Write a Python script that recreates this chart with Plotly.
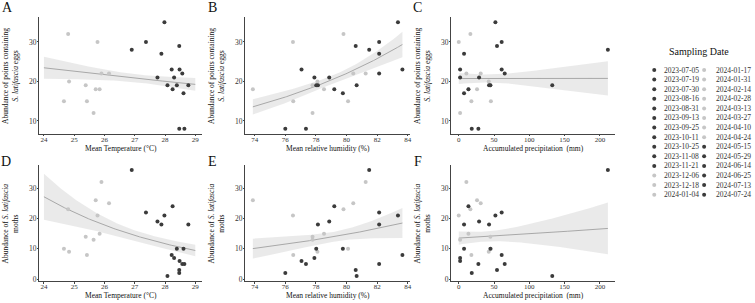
import math
import numpy as np
import plotly.graph_objects as go

W, H = 755, 303

# ---------------- data ----------------
dates = ["2023-07-05", "2023-07-19", "2023-07-30", "2023-08-16", "2023-08-31",
         "2023-09-13", "2023-09-25", "2023-10-11", "2023-10-25", "2023-11-08",
         "2023-11-21", "2023-12-06", "2023-12-18", "2024-01-04", "2024-01-17",
         "2024-01-31", "2024-02-14", "2024-02-28", "2024-03-13", "2024-03-27",
         "2024-04-10", "2024-04-24", "2024-05-15", "2024-05-29", "2024-06-14",
         "2024-06-25", "2024-07-13", "2024-07-24"]
shade = ["dark"] * 11 + ["light"] * 11 + ["dark"] * 6

temperature = [26.90, 27.37, 27.98, 28.22, 28.08, 28.47, 27.88, 28.61, 27.75, 28.25, 28.47,
               25.77, 25.64, 25.90, 24.80, 25.42, 25.71, 26.15, 24.83, 24.66, 25.38, 25.84,
               28.64, 28.57, 28.77, 28.39, 28.30, 28.48]
humidity = [81.48, 82.13, 83.36, 83.65, 80.66, 80.60, 82.13, 79.76, 78.87, 79.20, 76.00,
            76.50, 77.78, 81.25, 79.80, 76.52, 73.88, 80.44, 78.10, 80.10, 77.78, 78.53,
            77.35, 82.13, 78.13, 78.02, 77.90, 77.06]
precipitation = [211.3, 60.8, 51.9, 60.8, 132.5, 54.2, 7.5, 7.5, 28.8, 13.7, 18.4,
                 0.0, 1.9, 10.8, 16.5, 17.9, 25.9, 31.1, 42.5, 45.5, 44.8, 13.7,
                 27.8, 65.1, 42.9, 44.8, 1.9, 1.9]
eggs = [28, 30, 35, 23, 19, 29, 27, 17, 21, 18, 8,
        30, 12, 22, 32, 15, 18, 22, 20, 15, 19, 18,
        8, 22, 19, 19, 21, 23]
moths = [36, 22, 21, 8, 1, 3, 18, 10, 19, 24, 2,
         21, 13, 32, 23, 8, 26, 25, 9, 10, 14, 15,
         5, 5, 18, 10, 7, 6]

temp_ticks = [24, 25, 26, 27, 28, 29]
hum_ticks = [74, 76, 78, 80, 82, 84]
prec_ticks = [0, 50, 100, 150, 200]
egg_ticks = [10, 20, 30]
moth_ticks = [0, 10, 20, 30]

DARK = "#3b3b3b"
LIGHT = "#c6c6c6"
FONT = "Liberation Serif"
BAND_Z = 1.0   # band = fitted mean +/- 1 standard error (response scale)


# ---------------- negative binomial GLM (log link), all three covariates ----------------
def nb_fit(covs, y):
    y = np.asarray(y, float)
    C = np.column_stack([np.asarray(c, float) for c in covs])
    means = C.mean(axis=0)
    X = np.column_stack([np.ones(len(y)), C - means])
    lgy1 = sum(math.lgamma(v + 1) for v in y)

    def irls(beta, theta):
        for _ in range(200):
            eta = X @ beta
            mu = np.exp(eta)
            w = mu / (1.0 + mu / theta)
            z = eta + (y - mu) / mu
            nb = np.linalg.solve((X.T * w) @ X, (X.T * w) @ z)
            if np.max(np.abs(nb - beta)) < 1e-12:
                return nb
            beta = nb
        return beta

    def loglik(t, mu):
        s = 0.0
        for yi, mi in zip(y, mu):
            s += (math.lgamma(yi + t) - math.lgamma(t) + t * math.log(t / (t + mi))
                  + yi * math.log(mi / (t + mi)))
        return s - lgy1

    beta = np.zeros(X.shape[1])
    beta[0] = math.log(y.mean())
    theta = 5.0
    gr = (math.sqrt(5) - 1) / 2
    for _ in range(40):
        beta = irls(beta, theta)
        mu = np.exp(X @ beta)
        a, b = -3.0, 12.0
        c = b - gr * (b - a)
        d = a + gr * (b - a)
        for _ in range(80):
            if loglik(math.exp(c), mu) > loglik(math.exp(d), mu):
                b = d
            else:
                a = c
            c = b - gr * (b - a)
            d = a + gr * (b - a)
        theta = math.exp((a + b) / 2)
    beta = irls(beta, theta)
    mu = np.exp(X @ beta)
    w = mu / (1.0 + mu / theta)
    cov = np.linalg.inv((X.T * w) @ X)
    return beta, cov, means


def nb_predict(fit, k, xg):
    """Vary covariate k over xg, the others held at their means."""
    beta, cov, means = fit
    Xg = np.zeros((len(xg), len(beta)))
    Xg[:, 0] = 1.0
    Xg[:, 1 + k] = xg - means[k]
    eta = Xg @ beta
    se = np.sqrt(np.sum((Xg @ cov) * Xg, axis=1))
    mu = np.exp(eta)
    return mu, mu - BAND_Z * mu * se, mu + BAND_Z * mu * se


# ---------------- layout helpers ----------------
def px(x):
    return x / W


def py(y):
    return 1 - y / H


col_px = [(39.5, 202.5), (246.0, 411.0), (452.5, 617.0)]
row_px = [(17.0, 135.0), (165.7, 283.3)]

covariates = [temperature, humidity, precipitation]
xvars = [
    (temperature, [23.85, 29.22], temp_ticks, "Mean Temperature (°C)", "full"),
    (humidity, [73.39, 84.14], hum_ticks, "Mean relative humidity (%)", "data"),
    (precipitation, [-10.57, 221.9], prec_ticks, "Accumulated precipitation  (mm)", "data"),
]
yvars = [
    (eggs, [6.65, 36.35], egg_ticks,
     "Abundance of points containing<br><i>S. latifascia</i> eggs"),
    (moths, [-0.75, 37.75], moth_ticks,
     "Abundance of <i>S. latifascia</i><br>moths"),
]
letters = ["A", "B", "C", "D", "E", "F"]
letter_pos = [(7.2, 7.5), (213.5, 7.5), (419.0, 7.8), (6.0, 163.0), (213.5, 163.0), (419.0, 163.0)]

fig = go.Figure()
annotations = []
layout_axes = {}

idx = 0
for r, (yv, yr, yt, ytitle) in enumerate(yvars):
    fit = nb_fit(covariates, yv)
    for c, (xv, xr, xt, xtitle, span) in enumerate(xvars):
        idx += 1
        xa = "x" if idx == 1 else f"x{idx}"
        ya = "y" if idx == 1 else f"y{idx}"
        xd = col_px[c]
        yd = row_px[r]
        layout_axes["xaxis" if idx == 1 else f"xaxis{idx}"] = dict(
            domain=[px(xd[0]), px(xd[1])], range=xr, anchor=ya,
            tickvals=xt, ticks="outside", ticklen=1.5, tickwidth=0.7, tickcolor="#444",
            ticklabelstandoff=-3,
            showline=True, linecolor="#444", linewidth=0.7, showgrid=False, zeroline=False,
            tickfont=dict(family=FONT, size=7, color="#333"), fixedrange=True)
        layout_axes["yaxis" if idx == 1 else f"yaxis{idx}"] = dict(
            domain=[py(yd[1]), py(yd[0])], range=yr, anchor=xa,
            tickvals=yt, ticks="outside", ticklen=1.5, tickwidth=0.7, tickcolor="#444",
            ticklabelstandoff=-1,
            showline=True, linecolor="#444", linewidth=0.7, showgrid=False, zeroline=False,
            tickfont=dict(family=FONT, size=7.5, color="#333"), fixedrange=True)

        # fitted curve + band
        xarr = np.asarray(xv, float)
        if span == "full":
            xg = np.linspace(temp_ticks[0], temp_ticks[-1], 120)
        else:
            xg = np.linspace(xarr.min(), xarr.max(), 120)
        mu, lo, hi = nb_predict(fit, c, xg)
        fig.add_trace(go.Scatter(
            x=np.concatenate([xg, xg[::-1]]), y=np.concatenate([hi, lo[::-1]]),
            fill="toself", fillcolor="rgba(200,200,200,0.38)", line=dict(width=0),
            mode="lines", xaxis=xa, yaxis=ya, hoverinfo="skip", showlegend=False))
        fig.add_trace(go.Scatter(
            x=xg, y=mu, mode="lines", line=dict(color="#a8a8a8", width=1),
            xaxis=xa, yaxis=ya, hoverinfo="skip", showlegend=False))

        # points (light first, dark on top)
        for grp, col in (("light", LIGHT), ("dark", DARK)):
            sel = [i for i, s in enumerate(shade) if s == grp]
            fig.add_trace(go.Scatter(
                x=[xv[i] for i in sel], y=[yv[i] for i in sel], mode="markers",
                marker=dict(color=col, size=4, line=dict(width=0)),
                xaxis=xa, yaxis=ya, showlegend=False,
                text=[dates[i] for i in sel]))

        # axis titles
        annotations.append(dict(
            text=xtitle, x=px((xd[0] + xd[1]) / 2), y=py(yd[1] + 14.2),
            xref="paper", yref="paper", showarrow=False, xanchor="center", yanchor="middle",
            font=dict(family=FONT, size=7.5, color="#111")))
        annotations.append(dict(
            text=ytitle, x=px(xd[0] - 29), y=py((yd[0] + yd[1]) / 2),
            xref="paper", yref="paper", showarrow=False, xanchor="center", yanchor="middle",
            textangle=-90, font=dict(family=FONT, size=7.5, color="#111")))
        lx, ly = letter_pos[idx - 1]
        annotations.append(dict(
            text=letters[idx - 1], x=px(lx), y=py(ly), xref="paper", yref="paper",
            showarrow=False, xanchor="center", yanchor="middle",
            font=dict(family=FONT, size=14, color="#111")))

# ---------------- custom legend ----------------
leg_x_marker = [656.0, 706.0]
leg_x_text = [664.0, 716.0]
leg_y0, leg_dy = 70.5, 9.65
lx_m, ly_m, lc = [], [], []
for i, d in enumerate(dates):
    col = i // 14
    row = i % 14
    lx_m.append(leg_x_marker[col])
    ly_m.append(leg_y0 + row * leg_dy)
    lc.append(DARK if shade[i] == "dark" else LIGHT)
    annotations.append(dict(
        text=d, x=px(leg_x_text[col]), y=py(leg_y0 + row * leg_dy),
        xref="paper", yref="paper", showarrow=False, xanchor="left", yanchor="middle",
        font=dict(family=FONT, size=7.5, color="#333")))
fig.add_trace(go.Scatter(
    x=lx_m, y=ly_m, mode="markers", marker=dict(color=lc, size=4),
    xaxis="x7", yaxis="y7", hoverinfo="skip", showlegend=False))
annotations.append(dict(
    text="Sampling Date", x=px(701), y=py(52), xref="paper", yref="paper",
    showarrow=False, xanchor="center", yanchor="middle",
    font=dict(family=FONT, size=10, color="#111")))
layout_axes["xaxis7"] = dict(domain=[px(630), 1], range=[630, W], visible=False,
                             anchor="y7", fixedrange=True)
layout_axes["yaxis7"] = dict(domain=[0, 1], range=[H, 0], visible=False,
                             anchor="x7", fixedrange=True)

fig.update_layout(
    width=W, height=H, margin=dict(l=0, r=0, t=0, b=0),
    paper_bgcolor="white", plot_bgcolor="rgba(0,0,0,0)", showlegend=False,
    annotations=annotations, **layout_axes)

fig.write_html("out.html")
